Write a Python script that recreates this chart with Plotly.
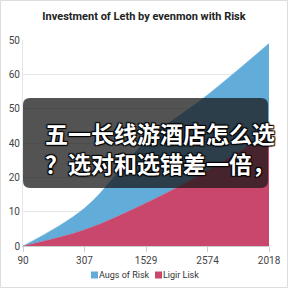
import plotly.graph_objects as go

categories = ["90", "307", "1529", "2574", "2018"]
augs_of_risk = [0, 6.3, 18, 22, 26]
ligir_lisk = [0, 4.7, 12.5, 22, 33]
y_tickvals = [0, 10, 20, 30, 40, 50, 60]
y_ticktext = ["0", "10", "20", "40", "50", "60", "50"]
overlay_lines = ["五一长线游酒店怎么选", "？选对和选错差一倍，"]
series_names = ["Augs of Risk", "Ligir Lisk"]
blue, red = "#62acd9", "#c9466c"

W, H = 288, 288
L, R, T, B = 23, 19, 40, 42
PW, PH = W - L - R, H - T - B

def px(x):
    return (x - L) / PW

def py(y):
    return (H - B - y) / PH

fig = go.Figure()
fig.add_trace(go.Scatter(x=categories, y=ligir_lisk, name=series_names[1], stackgroup="one",
                         mode="lines", line=dict(shape="spline", width=0.5, color=red),
                         fillcolor=red, showlegend=False))
fig.add_trace(go.Scatter(x=categories, y=augs_of_risk, name=series_names[0], stackgroup="one",
                         mode="lines", line=dict(shape="spline", width=0.5, color=blue),
                         fillcolor=blue, showlegend=False))

# rounded overlay box
x0, x1, y0, y1, r = 23, 268, 98, 188, 7
def P(x, y):
    return f"{px(x):.5f},{py(y):.5f}"
path = (f"M {P(x0+r, y0)} L {P(x1-r, y0)} Q {P(x1, y0)} {P(x1, y0+r)} "
        f"L {P(x1, y1-r)} Q {P(x1, y1)} {P(x1-r, y1)} L {P(x0+r, y1)} "
        f"Q {P(x0, y1)} {P(x0, y1-r)} L {P(x0, y0+r)} Q {P(x0, y0)} {P(x0+r, y0)} Z")
shapes = [
    dict(type="path", path=path, xref="paper", yref="paper", fillcolor="rgba(25,25,25,0.75)",
         line=dict(width=0), layer="above"),
    dict(type="rect", xref="paper", yref="paper", x0=px(0.5), x1=px(W - 0.5), y0=py(H - 0.5), y1=py(0.5),
         line=dict(color="#dddddd", width=1), fillcolor="rgba(0,0,0,0)", layer="above"),
]

annotations = [dict(text="<br>".join(f"<b>{t}</b>" for t in overlay_lines), xref="paper", yref="paper",
                    x=px(43), y=py(147.5), xanchor="left", yanchor="middle", align="left",
                    showarrow=False,
                    font=dict(family="Noto Sans CJK SC", size=23, color="white",
                              shadow="1px 1px 1px black, -1px -1px 1px black, 1px -1px 1px black, -1px 1px 1px black"))]

# legend: squares + labels
for name, col, sx in zip(series_names, [blue, red], [91, 155]):
    shapes.append(dict(type="rect", xref="paper", yref="paper", x0=px(sx), x1=px(sx + 7),
                       y0=py(278.5), y1=py(271.5), fillcolor=col, line=dict(width=0)))
    annotations.append(dict(text=name, xref="paper", yref="paper", x=px(sx + 6), y=py(275),
                            xanchor="left", yanchor="middle", showarrow=False,
                            font=dict(family="Roboto", size=9, color="#333")))

fig.update_layout(
    width=W, height=H, margin=dict(l=L, r=R, t=T, b=B, autoexpand=False),
    paper_bgcolor="white", plot_bgcolor="white",
    title=dict(text="<b>Investment of Leth by evenmon with Risk</b>", x=0.5, xanchor="center",
               y=1 - 16 / H, yanchor="middle", font=dict(family="Roboto", size=11, color="#222")),
    xaxis=dict(type="category", range=[0, 4], showgrid=False, showline=True, linecolor="#cccccc",
               ticks="outside", ticklen=5, tickcolor="#cccccc",
               tickfont=dict(family="Roboto", size=10, color="#444")),
    yaxis=dict(range=[0, 60], tickvals=y_tickvals, ticktext=y_ticktext, showgrid=True,
               gridcolor="#e6e6e6", showline=True, linecolor="#e6e6e6", zeroline=False,
               tickfont=dict(family="Roboto", size=10, color="#444"), ticks=""),
    shapes=shapes, annotations=annotations, showlegend=False,
)
fig.write_html("out.html")
